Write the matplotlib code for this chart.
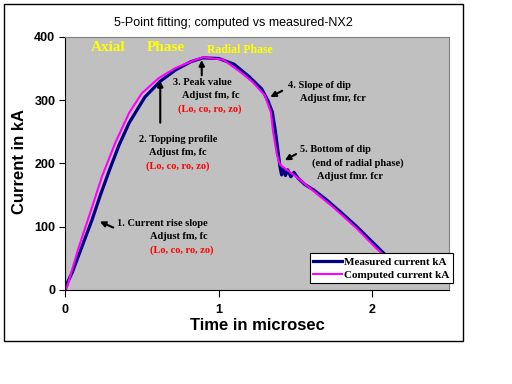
import matplotlib
matplotlib.use("Agg")
import matplotlib.pyplot as plt
from matplotlib.patches import Rectangle

# measured current (kA) vs time (microsec)
t_meas = [0, 0.02, 0.046, 0.10, 0.176, 0.23, 0.29, 0.35, 0.417, 0.52, 0.62,
          0.72, 0.82, 0.90, 1.00, 1.10, 1.20, 1.28, 1.32, 1.35, 1.37, 1.39,
          1.40, 1.41, 1.42, 1.435, 1.45, 1.47, 1.49, 1.52, 1.56, 1.62, 1.70,
          1.80, 1.90, 2.00, 2.10]
i_meas = [0, 14, 27, 62, 111, 150, 190, 228, 264, 305, 330,
          348, 361, 367, 366, 357, 337, 318, 300, 281, 250, 213,
          194, 182, 192, 181, 190, 179, 186, 176, 167, 158, 143,
          122, 100, 76, 52]

# computed current (kA)
t_comp = [0, 0.013, 0.09, 0.176, 0.24, 0.326, 0.417, 0.50, 0.61, 0.72, 0.85,
          0.90, 1.03, 1.14, 1.22, 1.30, 1.34, 1.355, 1.38, 1.40, 1.51, 1.60,
          1.75, 1.90, 2.03, 2.10]
i_comp = [0, 5, 68, 131, 179, 232, 280, 311, 335, 351, 364,
          368, 364, 345, 329, 308, 281, 250, 213, 198, 178, 160,
          130, 97, 65, 50]

labels = ["Measured current kA", "Computed current kA"]
xticks = [0, 1, 2]
yticks = [0, 100, 200, 300, 400]

serif = "Liberation Serif"
sans = "Liberation Sans"

fig = plt.figure(figsize=(5.12, 3.84), dpi=100)
ax = fig.add_axes([0.127, 0.2448, 0.75, 0.6589])
ax.set_facecolor("#C0C0C0")

ax.plot(t_meas, i_meas, color="#000080", lw=2.3, label=labels[0])
ax.plot(t_comp, i_comp, color="#FF00FF", lw=1.5, label=labels[1])

ax.set_xlim(0, 2.5)
ax.set_ylim(0, 400)
ax.set_xticks(xticks)
ax.set_yticks(yticks)
ax.tick_params(direction="out", length=4, width=0.8, pad=3)
ax.tick_params(axis="x", length=5, pad=5)
for lab in ax.get_xticklabels() + ax.get_yticklabels():
    lab.set_fontfamily(sans)
    lab.set_fontweight("bold")
    lab.set_fontsize(9)
for s in ["top", "right"]:
    ax.spines[s].set_color("#808080")
    ax.spines[s].set_linewidth(0.8)

fig.text(257 / 512, 1 - 326 / 384, "Time in microsec", fontfamily=sans,
         fontweight="bold", fontsize=12, ha="center", va="center")
fig.text(20 / 512, 1 - 162 / 384, "Current in kA", rotation=90,
         fontfamily=sans, fontweight="bold", fontsize=12,
         ha="center", va="center")
fig.text(233 / 512, 1 - 23 / 384, "5-Point fitting; computed vs measured-NX2",
         fontfamily=sans, fontsize=9, ha="center", va="center")

# phase labels
ax.text(0.17, 383, "Axial", color="#FFFF00", fontfamily=serif,
        fontweight="bold", fontsize=11, va="center")
ax.text(0.53, 383, "Phase", color="#FFFF00", fontfamily=serif,
        fontweight="bold", fontsize=11, va="center")
ax.text(0.925, 380, "Radial Phase", color="#FFFF00", fontfamily=serif,
        fontweight="bold", fontsize=8.5, va="center")

arrow = dict(arrowstyle="-|>", color="black", lw=1.5, mutation_scale=8)
tkw = dict(fontfamily=serif, fontweight="bold", fontsize=7.5, va="center")


def note(x, y, lines, colors, ha="left"):
    for k, (s, c) in enumerate(zip(lines, colors)):
        ax.text(x[k], y - k * 21, s, color=c, ha=ha, **tkw)


# 1. current rise slope
ax.annotate("", xy=(0.21, 110), xytext=(0.33, 97), arrowprops=arrow)
note([0.34, 0.55, 0.55], 105,
     ["1. Current rise slope", "Adjust fm, fc", "(Lo, co, ro, zo)"],
     ["black", "black", "red"], ha="left")
# 2. topping profile
ax.annotate("", xy=(0.62, 335), xytext=(0.62, 260), arrowprops=arrow)
note([0.735, 0.735, 0.735], 238,
     ["2. Topping profile", "Adjust fm, fc", "(Lo, co, ro, zo)"],
     ["black", "black", "red"], ha="center")
# 3. peak value
ax.annotate("", xy=(0.89, 368), xytext=(0.89, 335), arrowprops=arrow)
ax.text(0.705, 328, "3. Peak value", ha="left", **tkw)
ax.text(0.95, 307, "Adjust fm, fc", ha="center", **tkw)
ax.text(0.94, 286, "(Lo, co, ro, zo)", ha="center", color="red", **tkw)
# 4. slope of dip
ax.annotate("", xy=(1.32, 303), xytext=(1.43, 317), arrowprops=arrow)
ax.text(1.45, 323, "4. Slope of dip", ha="left", **tkw)
ax.text(1.53, 302, "Adjust fmr, fcr", ha="left", **tkw)
# 5. bottom of dip
ax.annotate("", xy=(1.415, 203), xytext=(1.52, 217), arrowprops=arrow)
ax.text(1.53, 222, "5. Bottom of dip", ha="left", **tkw)
ax.text(1.61, 201, "(end of radial phase)", ha="left", **tkw)
ax.text(1.64, 180, "Adjust fmr. fcr", ha="left", **tkw)

leg = ax.legend(loc="lower right", bbox_to_anchor=(453 / 512, 1 - 283 / 384),
                bbox_transform=fig.transFigure, fancybox=False, framealpha=1,
                edgecolor="black", borderpad=0.3, labelspacing=0.3,
                handlelength=2.6, handletextpad=0.2, borderaxespad=0,
                prop=dict(family=serif, weight="bold", size=8))
leg.get_frame().set_linewidth(0.8)

fig.patches.append(Rectangle((4 / 512, 1 - 341 / 384), 459 / 512, 337 / 384,
                             transform=fig.transFigure, fill=False,
                             edgecolor="black", lw=1))

fig.savefig("out.png", dpi=100)
